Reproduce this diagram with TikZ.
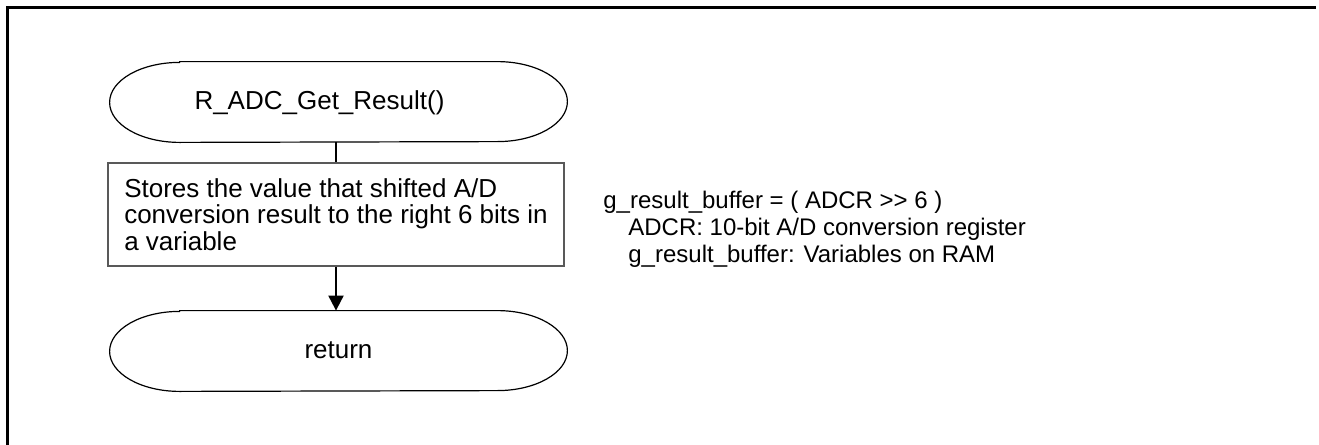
\documentclass[tikz,border=0pt]{standalone}
\usepackage{fontspec}
\setmainfont{Liberation Sans}
\usetikzlibrary{arrows.meta}

\tikzset{
  term/.style={minimum width=228.5pt,minimum height=40pt,inner sep=0pt,text height=0.716em,text depth=0pt,font=\fontsize{13}{13.3}\selectfont},
  procbox/.style={draw=black!65,line width=0.6pt,minimum width=228pt,inner xsep=0pt,inner ysep=0pt,minimum height=51.5pt,align=left,font=\fontsize{13}{13.3}\selectfont},
  note/.style={anchor=north west,align=left,inner sep=0pt,font=\fontsize{12}{13.5}\selectfont},
  flow/.style={line width=1pt},
}

% terminal outline with elliptic ends
\newcommand{\termoutline}[1]{%
  \draw[line width=0.6pt] ([xshift=35pt]#1.north west) -- ([xshift=-35pt]#1.north east)
    arc[start angle=90,end angle=-90,x radius=35pt,y radius=20pt]
    -- ([xshift=35pt]#1.south west)
    arc[start angle=270,end angle=90,x radius=35pt,y radius=20pt] -- cycle;}

\begin{document}
\begin{tikzpicture}[x=0.5pt,y=-0.5pt]
  \useasboundingbox (0,0) rectangle (1319,445);
  \draw[line width=1.5pt] (7,445) -- (7,7.5) -- (1316,7.5);

  \node[term] (start) at (338.5,102) {R\_ADC\_Get\_Result()\hspace*{19pt}};
  \termoutline{start}
  \node[procbox] (store) at (336,214.5) {Stores the value that shifted A/D\\conversion result to the right 6 bits in\\a variable};
  \node[term] (ret) at (338.5,351) {return};
  \termoutline{ret}

  \draw[flow] (start.south -| store.north) -- (store.north);
  \draw[flow,-{Triangle[length=7.5pt,width=7.5pt]}] (store.south) -- (store.south |- ret.north);

  \node[note] (expl) at (603,191) {g\_result\_buffer = ( ADCR >\kern0pt> 6 )\\
    \hspace*{12.5pt}ADCR: 10-bit A/D conversion register\\
    \hspace*{12.5pt}g\_result\_buffer: Variables on RAM};
\end{tikzpicture}
\end{document}
